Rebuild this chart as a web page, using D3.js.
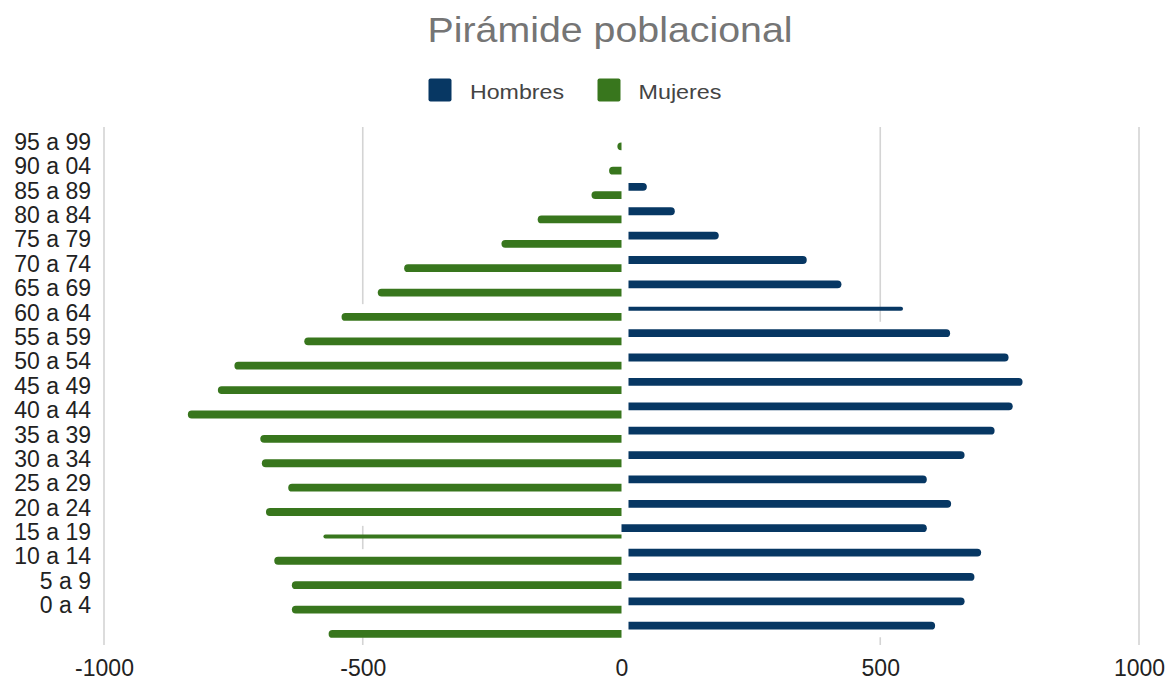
<!DOCTYPE html>
<html>
<head>
<meta charset="utf-8">
<script src="https://cdn.jsdelivr.net/npm/d3@7"></script>
<style>
  html, body { margin: 0; padding: 0; background: #ffffff; }
  svg { display: block; font-family: "Liberation Sans", Arial, sans-serif; }
</style>
</head>
<body>
<svg id="chart" width="1173" height="681"></svg>
<script>
// ---- Data ----
const ageGroups = ["95 a 99","90 a 04","85 a 89","80 a 84","75 a 79","70 a 74","65 a 69","60 a 64","55 a 59","50 a 54","45 a 49","40 a 44","35 a 39","30 a 34","25 a 29","20 a 24","15 a 19","10 a 14","5 a 9","0 a 4",""];
const hombres = [null,null,49,103,188,358,425,544,635,748,775,756,721,663,590,637,590,695,682,663,606];
const mujeres = [-8,-24,-58,-162,-232,-420,-471,-541,-613,-748,-780,-838,-698,-695,-644,-687,-576,-671,-637,-637,-566];
const seriesNames = ["Hombres","Mujeres"];
const xTicks = [-1000,-500,0,500,1000];
const title = "Pirámide poblacional";

// ---- Layout / style ----
const W = 1173, H = 681;
const plot = { left: 104, right: 1139, top: 127, bottom: 645 };
const colors = { Hombres: "#073763", Mujeres: "#38761d" };
const svg = d3.select("#chart");

const x = d3.scaleLinear().domain([-1000, 1000]).range([plot.left, plot.right]);
const rows = d3.range(ageGroups.length);
const y = d3.scaleBand().domain(rows).range([130, 642]).padding(0);
const sub = d3.scaleBand().domain(seriesNames).range([-8, 8]).paddingInner(0.05);

// ---- Gridlines (some partially hidden, as in the reference) ----
const gridColor = "#d4d4d4";
const grid = svg.append("g");
const plotH = plot.bottom - plot.top;
const gridSegments = [
  { v: -1000, segs: [[0, 1]] },
  { v: 1000,  segs: [[0, 1]] },
  { v: -500,  segs: [[0, 0.342], [0.77, 0.815], [0.985, 1]] },
  { v: 500,   segs: [[0, 0.376], [0.985, 1]] }
];
gridSegments.forEach(g => {
  g.segs.forEach(s => {
    grid.append("line")
      .attr("x1", x(g.v)).attr("x2", x(g.v))
      .attr("y1", plot.top + s[0] * plotH).attr("y2", plot.top + s[1] * plotH)
      .attr("stroke", gridColor).attr("stroke-width", 1.6);
  });
});

// ---- Bars ----
const thinRowsH = new Set([7]);
const thinRowsM = new Set([16]);
const blueGap = 7;
const noGapRowsH = new Set([16]);

function barPath(x0, x1, t, h, dir) {
  const r = Math.min(h / 2, Math.abs(x1 - x0));
  if (dir > 0) {
    return `M${x0},${t}L${x1 - r},${t}A${r},${r} 0 0 1 ${x1 - r},${t + h}L${x0},${t + h}Z`;
  } else {
    return `M${x0},${t}L${x1 + r},${t}A${r},${r} 0 0 0 ${x1 + r},${t + h}L${x0},${t + h}Z`;
  }
}

const bars = svg.append("g");
rows.forEach(i => {
  const c = y(i) + y.bandwidth() / 2;
  if (hombres[i] != null) {
    const full = sub.bandwidth();
    const h = thinRowsH.has(i) ? 4 : full;
    const center = c + sub("Hombres") + full / 2;
    const x0 = x(0) + (noGapRowsH.has(i) ? 0 : blueGap);
    bars.append("path")
      .attr("d", barPath(x0, x(hombres[i]), center - h / 2, h, 1))
      .attr("fill", colors.Hombres);
  }
  if (mujeres[i] != null) {
    const full = sub.bandwidth();
    const h = thinRowsM.has(i) ? 4 : full;
    const center = c + sub("Mujeres") + full / 2;
    bars.append("path")
      .attr("d", barPath(x(0), x(mujeres[i]), center - h / 2, h, -1))
      .attr("fill", colors.Mujeres);
  }
});

// ---- Y labels ----
const yAxis = d3.axisLeft(y).tickSize(0).tickPadding(0).tickFormat(i => ageGroups[i]);
const yg = svg.append("g").attr("transform", `translate(91,-0.5)`).call(yAxis);
yg.select(".domain").remove();
yg.selectAll("text")
  .attr("font-size", 23)
  .attr("font-family", "'Liberation Sans', Arial, sans-serif")
  .attr("fill", "#222222")
  .attr("dy", "0.36em");

// ---- X axis labels ----
const xAxis = d3.axisBottom(x).tickValues(xTicks).tickSize(0).tickPadding(0).tickFormat(d => String(d));
const xg = svg.append("g").attr("transform", `translate(0,676)`).call(xAxis);
xg.select(".domain").remove();
xg.selectAll("text")
  .attr("font-size", 23)
  .attr("font-family", "'Liberation Sans', Arial, sans-serif")
  .attr("fill", "#222222")
  .attr("dy", 0)
  .attr("y", 0);

// ---- Title ----
svg.append("text")
  .attr("x", 427.5).attr("y", 41.5)
  .attr("font-size", 35)
  .attr("fill", "#757575")
  .attr("textLength", 365).attr("lengthAdjust", "spacingAndGlyphs")
  .text(title);

// ---- Legend ----
const legendItems = [
  { name: "Hombres", sx: 428.5, tx: 470, tw: 94 },
  { name: "Mujeres", sx: 597.5, tx: 638.5, tw: 83 }
];
const lg = svg.append("g");
legendItems.forEach(d => {
  lg.append("rect")
    .attr("x", d.sx).attr("y", 78.5).attr("width", 23).attr("height", 23)
    .attr("rx", 2).attr("fill", colors[d.name]);
  lg.append("text")
    .attr("x", d.tx).attr("y", 98.5)
    .attr("font-size", 21)
    .attr("fill", "#444444")
    .attr("textLength", d.tw).attr("lengthAdjust", "spacingAndGlyphs")
    .text(d.name);
});
</script>
</body>
</html>
